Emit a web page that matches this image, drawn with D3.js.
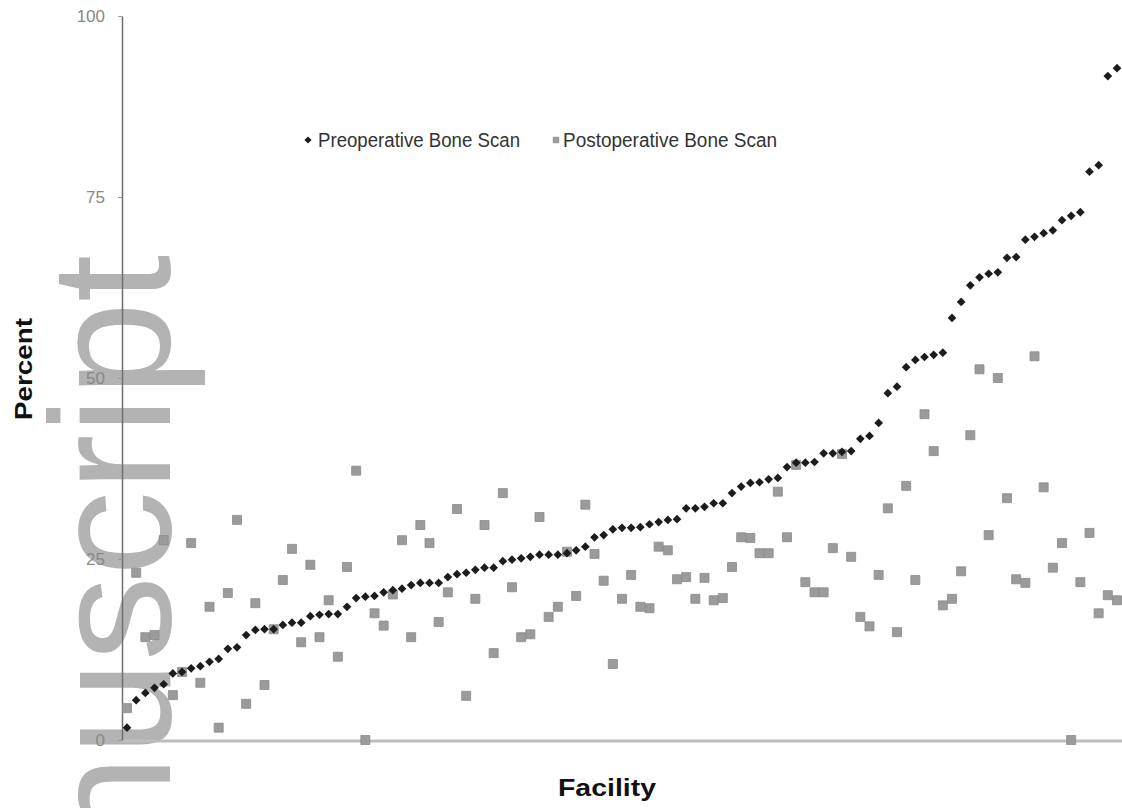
<!DOCTYPE html>
<html>
<head>
<meta charset="utf-8">
<script src="https://cdn.jsdelivr.net/npm/d3@7"></script>
<style>
  body { margin: 0; background: #fff; }
  svg { display: block; font-family: "Liberation Sans", Arial, sans-serif; }
</style>
</head>
<body>
<div id="chart"></div>
<script>
// preoperative bone scan rate per facility, sorted ascending (percent)
var preop = [
  1.7, 5.5, 6.5, 7.2, 7.7, 9.2, 9.4, 9.9, 10.2, 10.8, 11.2, 12.6, 12.8, 14.5, 15.2, 15.3,
  15.3, 15.9, 16.2, 16.2, 17.1, 17.3, 17.4, 17.4, 18.4, 19.6, 19.8, 19.9, 20.4, 20.7, 20.9, 21.4,
  21.7, 21.7, 21.7, 22.5, 22.9, 23.1, 23.5, 23.8, 23.8, 24.7, 24.9, 25.1, 25.3, 25.6, 25.6, 25.6,
  25.8, 26.2, 26.7, 28.0, 28.3, 29.1, 29.3, 29.3, 29.4, 29.8, 30.1, 30.4, 30.5, 32.0, 32.0, 32.2,
  32.7, 32.7, 34.1, 35.0, 35.5, 35.6, 36.0,
  36.2, 37.7, 38.3, 38.3, 38.4, 39.6, 39.6, 39.8, 39.9, 41.6, 42.0, 43.8, 47.9, 48.8, 51.5, 52.5,
  52.9, 53.2, 53.5, 58.3, 60.5,
  62.8, 63.9, 64.4, 64.6, 66.6, 66.7, 69.1, 69.5, 70.0, 70.4, 71.8, 72.4, 72.9, 78.5, 79.4, 91.7, 92.8
];

// postoperative bone scan rate, same facility order
var postop = [
  4.4, 23.1, 14.2, 14.5, 27.6, 6.2, 9.4, 27.2, 7.9, 18.4,
  1.7, 20.3, 30.4, 5.0, 18.9, 7.6, 15.3, 22.1, 26.4, 13.5,
  24.2, 14.2, 19.3, 11.5, 23.9, 37.2, 0, 17.5, 15.8, 20.1,
  27.6, 14.2, 29.7, 27.2, 16.3, 20.4, 31.9, 6.1, 19.5, 29.7,
  12.0, 34.1, 21.1, 14.2, 14.6, 30.8, 17.0, 18.4, 26.0, 19.9,
  32.5, 25.7, 22.0, 10.5, 19.5, 22.8, 18.4, 18.2, 26.7, 26.2,
  22.2, 22.5, 19.5, 22.4, 19.3, 19.6, 23.9, 28.0, 27.9, 25.8,
  25.8, 34.3, 28.0, 38.0, 21.8, 20.4, 20.4, 26.5, 39.5, 25.3,
  17.0, 15.7, 22.8, 32.0, 14.9, 35.1, 22.1, 45.0, 39.9, 18.6,
  19.5, 23.3, 42.1, 51.2, 28.3, 50.0, 33.4, 22.2, 21.7, 53.0,
  34.9, 23.8, 27.2, 0, 21.8, 28.6, 17.5, 20.0, 19.3
];

var yTicks = [0, 25, 50, 75, 100];
var seriesNames = ["Preoperative Bone Scan", "Postoperative Bone Scan"];

var WIDTH = 1122;
var HEIGHT = 808;

var svg = d3.select("#chart").append("svg")
    .attr("width", WIDTH)
    .attr("height", HEIGHT);

// manuscript watermark sits behind everything
svg.append("text")
    .attr("transform", "translate(170, 850) rotate(-90)")
    .style("font-size", "170px")
    .style("fill", "#b3b3b3")
    .text("nuscript");

var xScale = d3.scaleLinear().domain([0, preop.length - 1]).range([127, 1117]);
var yScale = d3.scaleLinear().domain([0, 100]).range([740, 16]);

// x axis: plain grey baseline
svg.append("line")
    .attr("x1", 122).attr("x2", WIDTH)
    .attr("y1", yScale(0) + 1).attr("y2", yScale(0) + 1)
    .style("stroke", "#bdbdbd")
    .style("stroke-width", 3);

var yAxis = d3.axisLeft(yScale).tickValues(yTicks).tickSize(4).tickSizeOuter(0).tickPadding(13);
var gy = svg.append("g")
    .attr("transform", "translate(122, 0)")
    .call(yAxis);
gy.select(".domain").style("stroke", "#6e6e6e").style("stroke-width", 1.5);
gy.selectAll(".tick line").style("stroke", "#999");
gy.selectAll(".tick text")
    .style("font-size", "17px")
    .style("font-family", "'Liberation Sans', Arial, sans-serif")
    .style("fill", "#888");

svg.append("text")
    .attr("transform", "translate(32, 369) rotate(-90)")
    .attr("text-anchor", "middle")
    .attr("textLength", 102)
    .attr("lengthAdjust", "spacingAndGlyphs")
    .style("font-size", "23px")
    .style("font-weight", "bold")
    .style("fill", "#111")
    .text("Percent");

svg.append("text")
    .attr("x", 607).attr("y", 796)
    .attr("text-anchor", "middle")
    .attr("textLength", 98)
    .attr("lengthAdjust", "spacingAndGlyphs")
    .style("font-size", "23px")
    .style("font-weight", "bold")
    .style("fill", "#111")
    .text("Facility");

var square = d3.symbol().type(d3.symbolSquare);

svg.append("g")
    .selectAll("path")
    .data(postop)
    .enter().append("path")
    .attr("transform", function(d, i) { return "translate(" + xScale(i) + "," + yScale(d) + ")"; })
    .attr("d", square.size(81)())
    .style("fill", "#9b9b9b")
    .style("stroke", "#8a8a8a")
    .style("stroke-width", 0.8);

svg.append("g")
    .selectAll("path")
    .data(preop)
    .enter().append("path")
    .attr("transform", function(d, i) { return "translate(" + xScale(i) + "," + yScale(d) + ") rotate(45)"; })
    .attr("d", square.size(38)())
    .style("fill", "#1c1c1c");

// legend
var legend = svg.append("g");
legend.append("path")
    .attr("transform", "translate(308, 140) rotate(45)")
    .attr("d", square.size(26)())
    .style("fill", "#1c1c1c");
legend.append("text")
    .attr("x", 318).attr("y", 147)
    .attr("textLength", 202)
    .attr("lengthAdjust", "spacingAndGlyphs")
    .style("font-size", "20px")
    .style("fill", "#333")
    .text(seriesNames[0]);
legend.append("path")
    .attr("transform", "translate(556, 140)")
    .attr("d", square.size(42)())
    .style("fill", "#9b9b9b");
legend.append("text")
    .attr("x", 563).attr("y", 147)
    .attr("textLength", 214)
    .attr("lengthAdjust", "spacingAndGlyphs")
    .style("font-size", "20px")
    .style("fill", "#333")
    .text(seriesNames[1]);
</script>
</body>
</html>
